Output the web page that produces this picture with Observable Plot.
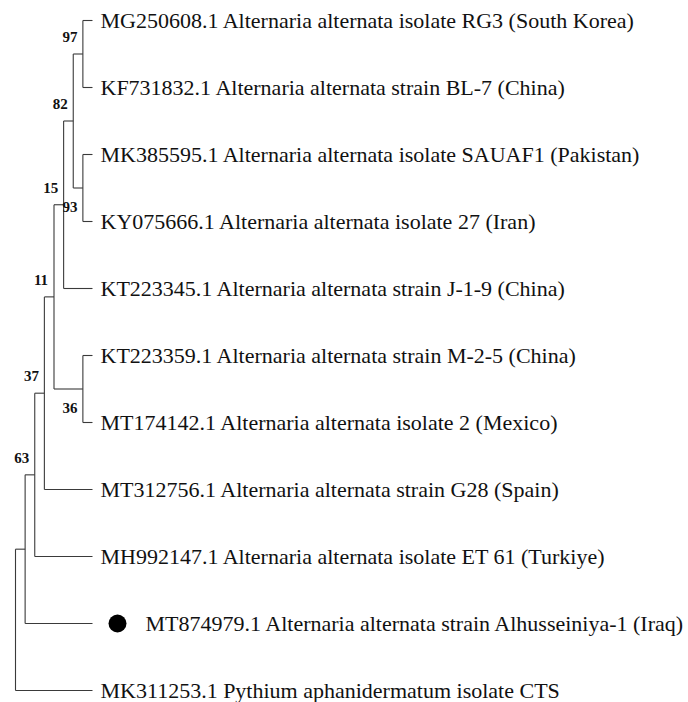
<!DOCTYPE html>
<html>
<head>
<meta charset="utf-8">
<script src="https://cdn.jsdelivr.net/npm/d3@7"></script>
<script src="https://cdn.jsdelivr.net/npm/@observablehq/plot@0.6"></script>
<style>
  html, body { margin: 0; padding: 0; background: #fff; }
  #chart svg { display: block; }
</style>
</head>
<body>
<div id="chart"></div>
<script>
// Leaves (top to bottom)
const leafNames = [
  "MG250608.1 Alternaria alternata isolate RG3 (South Korea)",
  "KF731832.1 Alternaria alternata strain BL-7 (China)",
  "MK385595.1 Alternaria alternata isolate SAUAF1 (Pakistan)",
  "KY075666.1 Alternaria alternata isolate 27 (Iran)",
  "KT223345.1 Alternaria alternata strain J-1-9 (China)",
  "KT223359.1 Alternaria alternata strain M-2-5 (China)",
  "MT174142.1 Alternaria alternata isolate 2 (Mexico)",
  "MT312756.1 Alternaria alternata strain G28 (Spain)",
  "MH992147.1 Alternaria alternata isolate ET 61 (Turkiye)",
  "MT874979.1 Alternaria alternata strain Alhusseiniya-1 (Iraq)",
  "MK311253.1 Pythium aphanidermatum isolate CTS"
];
const markedLeaf = 9; // query sequence shown with a filled dot

// Internal nodes (topology of the cladogram)
const nodeIds      = ["A", "B", "C", "D", "E", "F", "G", "H", "I", "R"];
const nodeChildren = [[0, 1], [2, 3], ["A", "B"], ["C", 4], [5, 6], ["D", "E"], ["F", 7], ["G", 8], ["H", 9], ["I", 10]];
const nodeDepth    = [7, 7, 6, 5, 7, 4, 3, 2, 1, 0];
const nodeSupport  = [97, 93, 82, 15, 36, 11, 37, 63, null, null];
const supportBelow = ["B", "E"]; // bootstrap label drawn under the node
const tipDepth = 8;

// ---- layout from the topology ----
const pos = new Map();
leafNames.forEach((n, i) => pos.set(i, {x: tipDepth, y: i}));
nodeIds.forEach((id, k) => {
  const ys = nodeChildren[k].map(c => pos.get(c).y);
  pos.set(id, {x: nodeDepth[k], y: (Math.min(...ys) + Math.max(...ys)) / 2});
});
const hSegs = [], vSegs = [];
nodeIds.forEach((id, k) => {
  const p = pos.get(id);
  const ys = nodeChildren[k].map(c => pos.get(c).y);
  vSegs.push({x: p.x, y1: Math.min(...ys), y2: Math.max(...ys)});
  nodeChildren[k].forEach(c => {
    const q = pos.get(c);
    hSegs.push({x1: p.x, x2: q.x, y: q.y});
  });
});
const leaves = leafNames.map((name, i) => ({name, x: tipDepth, y: i, marked: i === markedLeaf}));
const supports = nodeIds.map((id, k) => ({id, ...pos.get(id), s: nodeSupport[k]})).filter(d => d.s != null);

const stroke = "#3a3a3a";
const chart = Plot.plot({
  width: 688,
  height: 702,
  margin: 0,
  x: {domain: [0, tipDepth], range: [15, 92], axis: null},
  y: {domain: [0, leafNames.length - 1], range: [20, 690], axis: null},
  style: {fontFamily: "'Liberation Serif', 'Times New Roman', serif", background: "#fff"},
  marks: [
    Plot.link(hSegs, {x1: "x1", x2: "x2", y1: "y", y2: "y", stroke, strokeWidth: 1.1}),
    Plot.link(vSegs, {x1: "x", x2: "x", y1: "y1", y2: "y2", stroke, strokeWidth: 1.1}),
    Plot.text(leaves.filter(d => !d.marked), {x: "x", y: "y", text: "name", textAnchor: "start", dx: 8, fontSize: 22, fill: "#111"}),
    Plot.text(leaves.filter(d => d.marked), {x: "x", y: "y", text: "name", textAnchor: "start", dx: 53, fontSize: 22, fill: "#111"}),
    Plot.dot(leaves.filter(d => d.marked), {x: "x", y: "y", dx: 25, r: 9, fill: "#000", stroke: "none"}),
    Plot.text(supports.filter(d => !supportBelow.includes(d.id)), {x: "x", y: "y", text: "s", dx: -13, dy: -17, fontSize: 15, fontWeight: "bold", fill: "#111"}),
    Plot.text(supports.filter(d => supportBelow.includes(d.id)), {x: "x", y: "y", text: "s", dx: -13, dy: 19, fontSize: 15, fontWeight: "bold", fill: "#111"})
  ]
});
document.getElementById("chart").appendChild(chart);
</script>
</body>
</html>
